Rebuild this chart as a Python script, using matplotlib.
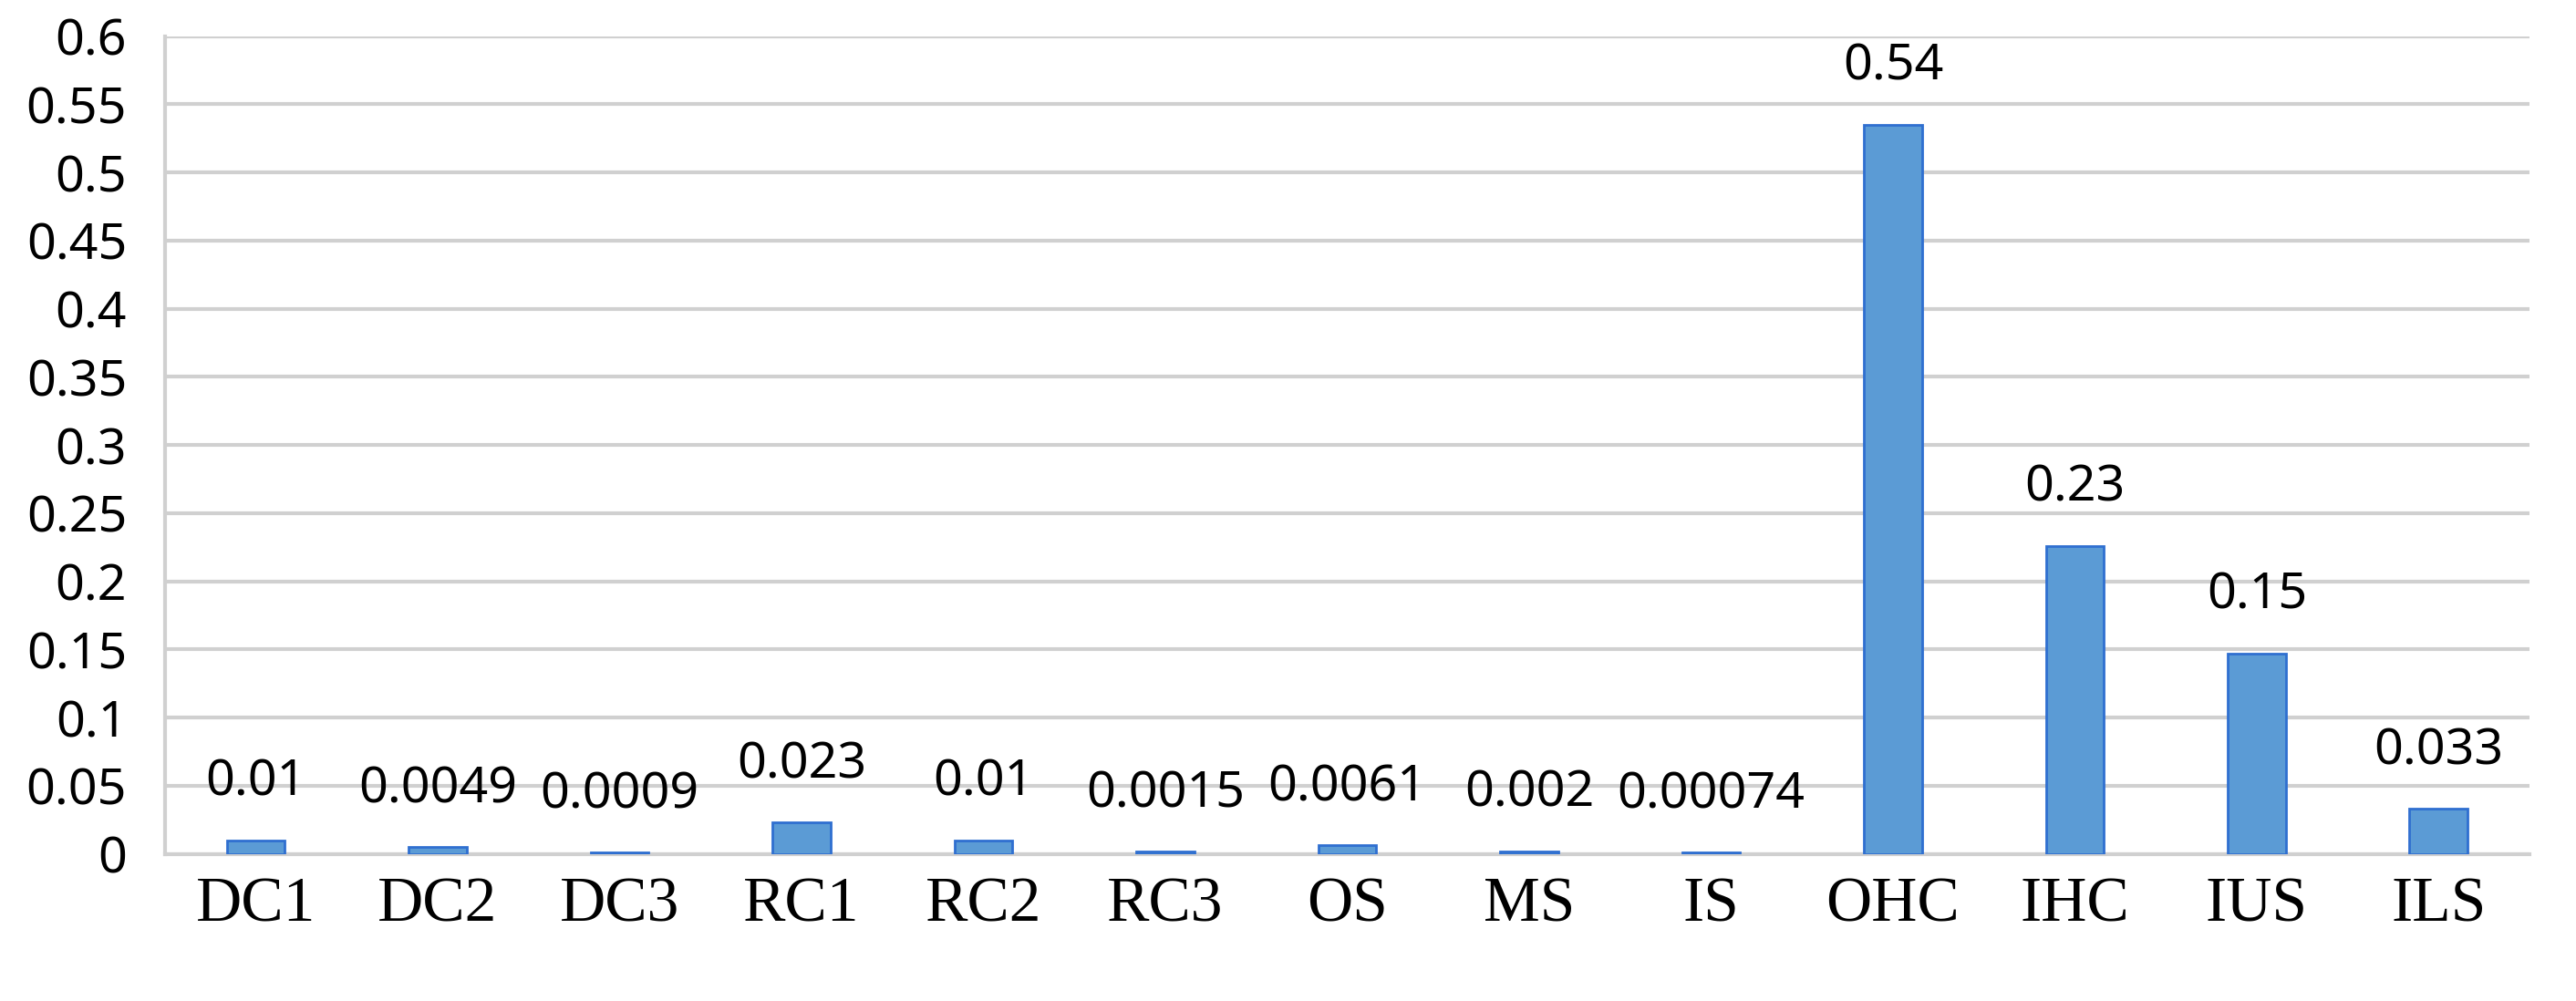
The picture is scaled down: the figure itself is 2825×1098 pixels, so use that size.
import matplotlib.pyplot as plt

categorias = ['DC1', 'DC2', 'DC3', 'RC1', 'RC2', 'RC3', 'OS', 'MS', 'IS', 'OHC', 'IHC', 'IUS', 'ILS']
valores = [0.01, 0.0049, 0.0009, 0.023, 0.01, 0.0015, 0.0061, 0.002, 0.00074, 0.535, 0.226, 0.147, 0.033]
rotulos = ['0.01', '0.0049', '0.0009', '0.023', '0.01', '0.0015', '0.0061', '0.002', '0.00074', '0.54', '0.23', '0.15', '0.033']
yticks = [0, 0.05, 0.1, 0.15, 0.2, 0.25, 0.3, 0.35, 0.4, 0.45, 0.5, 0.55, 0.6]
ytick_labels = ['0', '0.05', '0.1', '0.15', '0.2', '0.25', '0.3', '0.35', '0.4', '0.45', '0.5', '0.55', '0.6']

fig = plt.figure(figsize=(28.25, 10.98), dpi=100)
ax = fig.add_axes([0.064, 0.147, 0.918, 0.817])

x = range(len(categorias))
barras = ax.bar(x, valores, width=0.32, color='#5B9BD5', edgecolor='#2F6FD0', linewidth=2, zorder=3)

for xi, v, r in zip(x, valores, rotulos):
    ax.annotate(r, (xi, v), xytext=(0, 26), textcoords='offset points',
                ha='center', va='bottom', fontsize=40, family='Noto Sans', color='black')

ax.set_ylim(0, 0.6)
ax.set_xlim(-0.5, len(categorias) - 0.5)
ax.set_yticks(yticks)
ax.set_yticklabels(ytick_labels, fontsize=40, family='Noto Sans')
ax.set_xticks(list(x))
ax.set_xticklabels(categorias, fontsize=50, family='Liberation Serif')
ax.tick_params(axis='both', length=0)
ax.tick_params(axis='x', pad=18)
ax.tick_params(axis='y', pad=30)

ax.grid(axis='y', color='#D0D0D0', linewidth=3, zorder=0)
for s in ['top', 'right']:
    ax.spines[s].set_visible(False)
ax.spines['left'].set_color('#D0D0D0')
ax.spines['left'].set_linewidth(3)
ax.spines['bottom'].set_color('#D0D0D0')
ax.spines['bottom'].set_linewidth(3)

fig.savefig('out.png', dpi=100)
